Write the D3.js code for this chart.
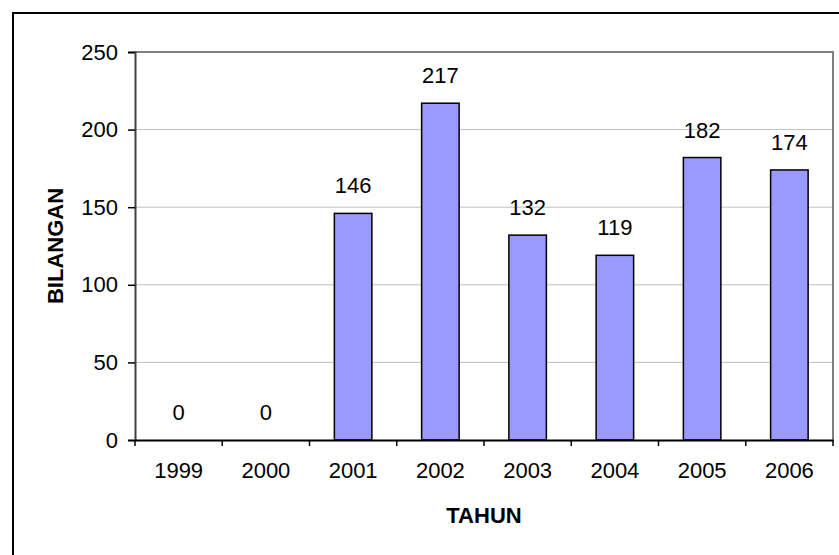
<!DOCTYPE html>
<html>
<head>
<meta charset="utf-8">
<script src="https://cdn.jsdelivr.net/npm/d3@7"></script>
<style>
  body { margin: 0; background: #fff; }
  text { font-family: "Liberation Sans", Arial, sans-serif; }
</style>
</head>
<body>
<div id="chart"></div>
<script>
// data
var years = ["1999", "2000", "2001", "2002", "2003", "2004", "2005", "2006"];
var counts = [0, 0, 146, 217, 132, 119, 182, 174];
var yTicks = [0, 50, 100, 150, 200, 250];

var width = 839, height = 555;
var plotLeft = 135, plotRight = 833, plotTop = 52, plotBottom = 440;
var fontSize = "22px";

var svg = d3.select("#chart").append("svg")
    .attr("width", width)
    .attr("height", height);

// outer frame (runs off the picture on the right and bottom)
svg.append("rect")
    .attr("x", 13).attr("y", 13)
    .attr("width", 900).attr("height", 700)
    .attr("fill", "#fff")
    .attr("stroke", "#000")
    .attr("stroke-width", 2);

var x = d3.scaleBand().domain(years).range([plotLeft, plotRight]).paddingInner(0.57).paddingOuter(0.285);
var xBand = d3.scaleBand().domain(years).range([plotLeft, plotRight]);
var y = d3.scaleLinear().domain([0, 250]).range([plotBottom, plotTop]);

// gridlines
svg.append("g").selectAll("line")
    .data(yTicks.filter(function(d) { return d > 0 && d < 250; }))
    .enter().append("line")
    .attr("x1", plotLeft).attr("x2", plotRight)
    .attr("y1", function(d) { return y(d); })
    .attr("y2", function(d) { return y(d); })
    .attr("stroke", "#c0c0c0")
    .attr("stroke-width", 1);

// plot frame top/right in gray
svg.append("path")
    .attr("d", "M" + plotLeft + "," + plotTop + "H" + plotRight + "V" + plotBottom)
    .attr("fill", "none")
    .attr("stroke", "#808080")
    .attr("stroke-width", 2);

// bars
svg.append("g").selectAll("rect")
    .data(counts)
    .enter().append("rect")
    .attr("x", function(d, i) { return x(years[i]); })
    .attr("y", function(d) { return y(d); })
    .attr("width", x.bandwidth())
    .attr("height", function(d) { return plotBottom - y(d); })
    .attr("fill", "#9999ff")
    .attr("stroke", function(d) { return d > 0 ? "#000" : "none"; })
    .attr("stroke-width", 1.5);

// value labels
svg.append("g").selectAll("text")
    .data(counts)
    .enter().append("text")
    .attr("x", function(d, i) { return x(years[i]) + x.bandwidth() / 2; })
    .attr("y", function(d) { return y(d) - 20; })
    .attr("text-anchor", "middle")
    .style("font-size", fontSize)
    .text(function(d) { return d; });

// y axis
var yAxis = svg.append("g")
    .attr("transform", "translate(" + plotLeft + ",0)")
    .call(d3.axisLeft(y).tickValues(yTicks).tickSize(7).tickPadding(10));
yAxis.select(".domain").attr("stroke", "#404040").attr("stroke-width", 2);
yAxis.selectAll(".tick line").attr("stroke", "#000").attr("stroke-width", 1.5);
yAxis.selectAll(".tick text")
    .attr("font-family", null)
    .style("font-size", fontSize)
    .attr("fill", "#000");

// x axis, ticks between categories
var xAxis = svg.append("g")
    .attr("transform", "translate(0," + plotBottom + ")")
    .call(d3.axisBottom(xBand).tickSize(0).tickPadding(22));
xAxis.select(".domain").attr("stroke", "#000").attr("stroke-width", 2);
xAxis.selectAll(".tick text")
    .attr("font-family", null)
    .style("font-size", fontSize)
    .attr("fill", "#000");
svg.append("g").selectAll("line")
    .data(d3.range(years.length + 1))
    .enter().append("line")
    .attr("x1", function(i) { return plotLeft + i * xBand.step(); })
    .attr("x2", function(i) { return plotLeft + i * xBand.step(); })
    .attr("y1", plotBottom)
    .attr("y2", plotBottom + 6)
    .attr("stroke", "#000")
    .attr("stroke-width", 1.5);

// axis titles
svg.append("text")
    .attr("x", (plotLeft + plotRight) / 2)
    .attr("y", 523)
    .attr("text-anchor", "middle")
    .style("font-size", fontSize)
    .style("font-weight", "bold")
    .text("TAHUN");

svg.append("text")
    .attr("transform", "translate(63," + (plotTop + plotBottom) / 2 + ") rotate(-90)")
    .attr("text-anchor", "middle")
    .style("font-size", fontSize)
    .style("font-weight", "bold")
    .text("BILANGAN");
</script>
</body>
</html>
